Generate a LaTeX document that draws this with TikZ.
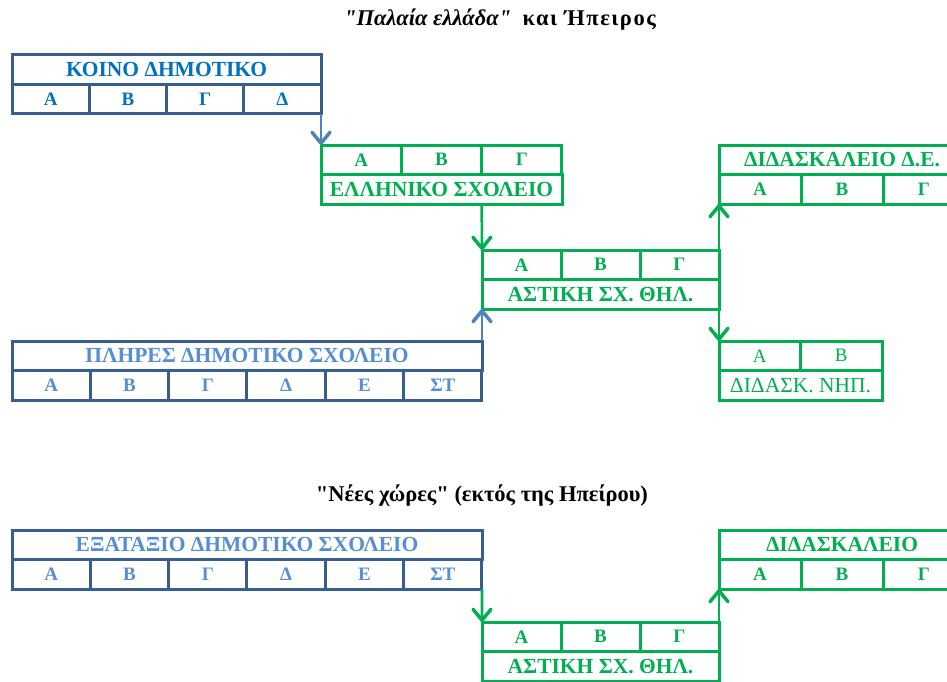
\documentclass[tikz,border=0pt]{standalone}
\usepackage{fontspec}
\setmainfont{Liberation Serif}
\usepackage{tikz}
\usetikzlibrary{arrows.meta, positioning}
\definecolor{boxblue}{RGB}{56,94,142}
\definecolor{koinoblue}{RGB}{0,112,192}
\definecolor{lightblue}{RGB}{85,142,213}
\definecolor{arrowblue}{RGB}{79,129,189}
\definecolor{figgreen}{RGB}{0,176,80}
\newcommand{\headfont}{\fontsize{21.5}{25}\selectfont\bfseries}
\newcommand{\cellfont}{\fontsize{19}{23}\selectfont\bfseries}
\newcommand{\titlefont}{\fontsize{22.5}{26}\selectfont\bfseries}
\tikzstyle{bluebox} = [rectangle, draw=boxblue, line width=3pt,
inner sep=0pt, outer sep=0pt, minimum height=29.5pt, font=\headfont]
\tikzstyle{bluecell} = [bluebox, font=\cellfont]
\tikzstyle{greenbox} = [bluebox, draw=figgreen, text=figgreen]
\tikzstyle{greencell} = [greenbox, font=\cellfont]
\tikzstyle{arrow} = [-{Straight Barb[length=11pt, width=18pt, line width=3.5pt, round]}, line width=2.6pt]

\begin{document}
\begin{tikzpicture}[x=1pt, y=-1pt]
    \useasboundingbox (0,0) rectangle (947,682);
    \clip (0,0) rectangle (947,682);

    % titles
    \node (title1) [font=\titlefont] at (500,20)
    {\textit{\textquotedbl Παλαία ελλάδα\textquotedbl}\ \ {\addfontfeature{LetterSpace=7}και Ήπειρος}};
    \node (title2) [font=\titlefont] at (482,496)
    {\textquotedbl Νέες χώρες\textquotedbl\ (εκτός της Ηπείρου)};

    % ΚΟΙΝΟ ΔΗΜΟΤΙΚΟ
    \node (koino) [bluebox, text=koinoblue, minimum width=309pt, anchor=north west] at (12,55) {ΚΟΙΝΟ ΔΗΜΟΤΙΚΟ};
    \node (koA) [bluecell, text=koinoblue, minimum width=77.25pt, anchor=north west] at (koino.south west) {Α};
    \node (koB) [bluecell, text=koinoblue, minimum width=77.25pt, right=0pt of koA] {Β};
    \node (koG) [bluecell, text=koinoblue, minimum width=77.25pt, right=0pt of koB] {Γ};
    \node (koD) [bluecell, text=koinoblue, minimum width=77.25pt, right=0pt of koG] {Δ};

    % ΕΛΛΗΝΙΚΟ ΣΧΟΛΕΙΟ
    \node (ellA) [greencell, minimum width=80.33pt, anchor=north west] at (321,145) {Α};
    \node (ellB) [greencell, minimum width=80.33pt, right=0pt of ellA] {Β};
    \node (ellG) [greencell, minimum width=80.33pt, right=0pt of ellB] {Γ};
    \node (ell) [greenbox, minimum width=241pt, anchor=north west] at (ellA.south west) {ΕΛΛΗΝΙΚΟ ΣΧΟΛΕΙΟ};

    % ΑΣΤΙΚΗ ΣΧ. ΘΗΛ. (πάνω)
    \node (astA) [greencell, minimum width=79pt, anchor=north west] at (482,250) {Α};
    \node (astB) [greencell, minimum width=79pt, right=0pt of astA] {Β};
    \node (astG) [greencell, minimum width=79pt, right=0pt of astB] {Γ};
    \node (ast) [greenbox, minimum width=237pt, anchor=north west] at (astA.south west) {ΑΣΤΙΚΗ ΣΧ. ΘΗΛ.};

    % ΔΙΔΑΣΚΑΛΕΙΟ Δ.Ε.
    \node (did) [greenbox, minimum width=246pt, anchor=north west] at (719,145) {ΔΙΔΑΣΚΑΛΕΙΟ Δ.Ε.};
    \node (didA) [greencell, minimum width=82pt, anchor=north west] at (did.south west) {Α};
    \node (didB) [greencell, minimum width=82pt, right=0pt of didA] {Β};
    \node (didG) [greencell, minimum width=82pt, right=0pt of didB] {Γ};

    % ΔΙΔΑΣΚ. ΝΗΠ.
    \node (nipA) [greencell, font=\fontsize{19}{23}\selectfont, minimum width=81.5pt, anchor=north west] at (719,341) {Α};
    \node (nipB) [greencell, font=\fontsize{19}{23}\selectfont, minimum width=81.5pt, right=0pt of nipA] {Β};
    \node (nip) [greenbox, font=\fontsize{21.5}{25}\selectfont, minimum width=163pt, anchor=north west] at (nipA.south west) {ΔΙΔΑΣΚ. ΝΗΠ.};

    % ΠΛΗΡΕΣ ΔΗΜΟΤΙΚΟ ΣΧΟΛΕΙΟ
    \node (pl) [bluebox, text=lightblue, minimum width=470pt, anchor=north west] at (12,341) {ΠΛΗΡΕΣ ΔΗΜΟΤΙΚΟ ΣΧΟΛΕΙΟ};
    \node (plA) [bluecell, text=lightblue, minimum width=78.33pt, anchor=north west] at (pl.south west) {Α};
    \node (plB) [bluecell, text=lightblue, minimum width=78.33pt, right=0pt of plA] {Β};
    \node (plG) [bluecell, text=lightblue, minimum width=78.33pt, right=0pt of plB] {Γ};
    \node (plD) [bluecell, text=lightblue, minimum width=78.33pt, right=0pt of plG] {Δ};
    \node (plE) [bluecell, text=lightblue, minimum width=78.33pt, right=0pt of plD] {Ε};
    \node (plST) [bluecell, text=lightblue, minimum width=78.33pt, right=0pt of plE] {ΣΤ};

    % ΕΞΑΤΑΞΙΟ ΔΗΜΟΤΙΚΟ ΣΧΟΛΕΙΟ
    \node (exa) [bluebox, text=lightblue, minimum width=470pt, anchor=north west] at (12,530) {ΕΞΑΤΑΞΙΟ ΔΗΜΟΤΙΚΟ ΣΧΟΛΕΙΟ};
    \node (exaA) [bluecell, text=lightblue, minimum width=78.33pt, anchor=north west] at (exa.south west) {Α};
    \node (exaB) [bluecell, text=lightblue, minimum width=78.33pt, right=0pt of exaA] {Β};
    \node (exaG) [bluecell, text=lightblue, minimum width=78.33pt, right=0pt of exaB] {Γ};
    \node (exaD) [bluecell, text=lightblue, minimum width=78.33pt, right=0pt of exaG] {Δ};
    \node (exaE) [bluecell, text=lightblue, minimum width=78.33pt, right=0pt of exaD] {Ε};
    \node (exaST) [bluecell, text=lightblue, minimum width=78.33pt, right=0pt of exaE] {ΣΤ};

    % ΑΣΤΙΚΗ ΣΧ. ΘΗΛ. (κάτω)
    \node (asttA) [greencell, minimum width=79pt, anchor=north west] at (482,622) {Α};
    \node (asttB) [greencell, minimum width=79pt, right=0pt of asttA] {Β};
    \node (asttG) [greencell, minimum width=79pt, right=0pt of asttB] {Γ};
    \node (astt) [greenbox, minimum width=237pt, anchor=north west] at (asttA.south west) {ΑΣΤΙΚΗ ΣΧ. ΘΗΛ.};

    % ΔΙΔΑΣΚΑΛΕΙΟ
    \node (didt) [greenbox, minimum width=246pt, anchor=north west] at (719,530) {ΔΙΔΑΣΚΑΛΕΙΟ};
    \node (didtA) [greencell, minimum width=82pt, anchor=north west] at (didt.south west) {Α};
    \node (didtB) [greencell, minimum width=82pt, right=0pt of didtA] {Β};
    \node (didtG) [greencell, minimum width=82pt, right=0pt of didtB] {Γ};

    \draw[arrow, draw=arrowblue] (koD.south east) -- (ellA.north west);
    \draw[arrow, draw=figgreen] (ellG.west |- ell.south) -- (astA.north west);
    \draw[arrow, draw=arrowblue] (pl.north east) -- (ast.south west);
    \draw[arrow, draw=figgreen] (astG.north east) -- (didA.south west);
    \draw[arrow, draw=figgreen] (ast.south east) -- (nipA.north west);
    \draw[arrow, draw=figgreen] (exaST.south east) -- (asttA.north west);
    \draw[arrow, draw=figgreen] (asttG.north east) -- (didtA.south west);
\end{tikzpicture}
\end{document}
